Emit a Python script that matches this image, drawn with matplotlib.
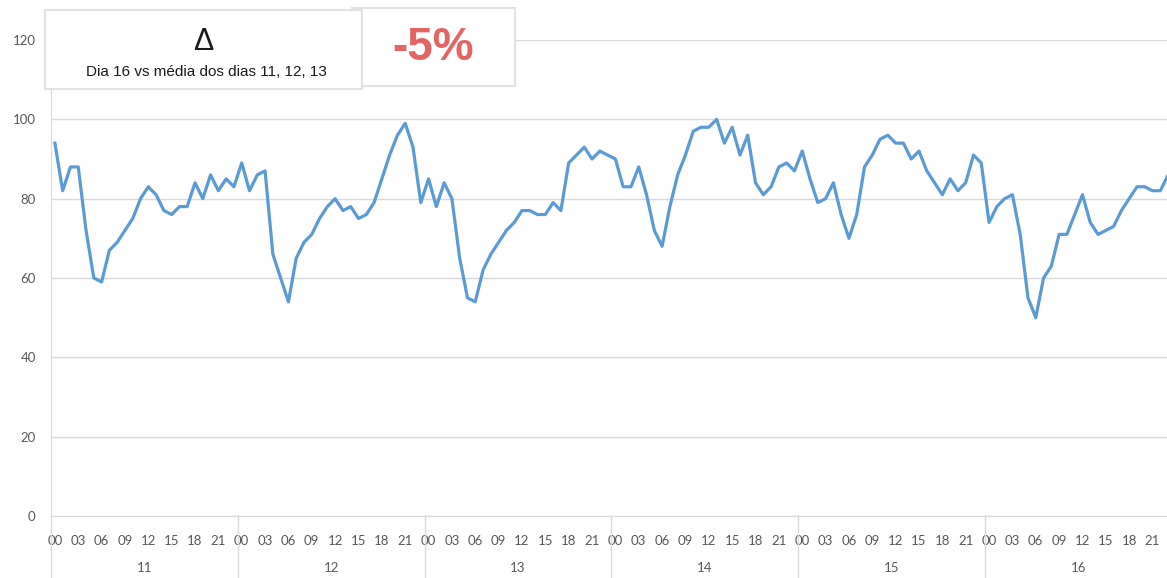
import numpy as np
import matplotlib.pyplot as plt
from matplotlib.patches import Rectangle
from matplotlib.transforms import blended_transform_factory

# Hourly series, one list per day (hours 00..23)
days = ['11', '12', '13', '14', '15', '16']
day11 = [94, 82, 88, 88, 72, 60, 59, 67, 69, 72, 75, 80, 83, 81, 77, 76, 78, 78, 84, 80, 86, 82, 85, 83]
day12 = [89, 82, 86, 87, 66, 60, 54, 65, 69, 71, 75, 78, 80, 77, 78, 75, 76, 79, 85, 91, 96, 99, 93, 79]
day13 = [85, 78, 84, 80, 65, 55, 54, 62, 66, 69, 72, 74, 77, 77, 76, 76, 79, 77, 89, 91, 93, 90, 92, 91]
day14 = [90, 83, 83, 88, 81, 72, 68, 78, 86, 91, 97, 98, 98, 100, 94, 98, 91, 96, 84, 81, 83, 88, 89, 87]
day15 = [92, 85, 79, 80, 84, 76, 70, 76, 88, 91, 95, 96, 94, 94, 90, 92, 87, 84, 81, 85, 82, 84, 91, 89]
day16 = [74, 78, 80, 81, 71, 55, 50, 60, 63, 71, 71, 76, 81, 74, 71, 72, 73, 77, 80, 83, 83, 82, 82, 86]
hour_labels = ['00', '03', '06', '09', '12', '15', '18', '21']
y_ticks = [0, 20, 40, 60, 80, 100, 120]

delta_title = 'Δ'
delta_subtitle = 'Dia 16 vs média dos dias 11, 12, 13'
delta_value = '-5%'

values = day11 + day12 + day13 + day14 + day15 + day16
n_hours = 24
x = np.arange(len(values))

W, H = 1167, 578
fig = plt.figure(figsize=(W / 100, H / 100), dpi=100)
# plot area runs a little past the right edge, like the cropped sheet
ax = fig.add_axes([51 / W, 62 / H, 1121 / W, 476 / H])

grid_col = '#d9d9d9'
lab_col = '#595959'

ax.plot(x, values, color='#5b9bd5', lw=2.3, solid_joinstyle='round', zorder=3)

ax.set_xlim(-0.5, len(values) - 0.5)
ax.set_ylim(0, 120)
ax.set_yticks(y_ticks)
ax.set_yticklabels([str(v) for v in y_ticks], family='Lato', fontsize=9.5, color=lab_col)
ax.yaxis.grid(True, color=grid_col, lw=1)
ax.set_axisbelow(True)

hour_pos = [d * n_hours + h for d in range(len(days)) for h in range(0, 24, 3)]
ax.set_xticks(hour_pos)
ax.set_xticklabels(hour_labels * len(days), family='Lato', fontsize=9.5, color=lab_col)
ax.tick_params(axis='both', length=0)
ax.tick_params(axis='x', pad=14)
ax.tick_params(axis='y', pad=11)

for s in ['top', 'right']:
    ax.spines[s].set_visible(False)
ax.spines['left'].set_color(grid_col)
ax.spines['bottom'].set_color(grid_col)

# day group labels and separators under the axis
trans = blended_transform_factory(ax.transData, ax.transAxes)
for d, name in enumerate(days):
    start = d * n_hours - 0.5
    ax.plot([start, start], [0, -0.14], transform=trans, color=grid_col, lw=1, clip_on=False)
    ax.text(start + n_hours / 2, -0.109, name, transform=trans, ha='center', va='center',
            family='Lato', fontsize=9.5, color=lab_col)

# summary boxes over the top of the chart
box_edge = '#e2e2e2'
fig.add_artist(Rectangle((352 / W, 1 - 86 / H), 163 / W, 78 / H, transform=fig.transFigure,
                         facecolor='white', edgecolor=box_edge, lw=1.5, zorder=5))
fig.add_artist(Rectangle((45 / W, 1 - 89 / H), 317 / W, 79 / H, transform=fig.transFigure,
                         facecolor='white', edgecolor=box_edge, lw=1.5, zorder=6))
fig.text(203 / W, 1 - 42 / H, delta_title, ha='center', va='center', family='Liberation Sans',
         fontsize=22, color='#1a1a1a', zorder=7)
fig.text(206 / W, 1 - 72 / H, delta_subtitle, ha='center', va='center', family='Liberation Sans',
         fontsize=11, color='#1a1a1a', zorder=7)
fig.text(433 / W, 1 - 48 / H, delta_value, ha='center', va='center', family='Liberation Sans',
         fontsize=33, fontweight='bold', color='#e46464', zorder=7)

fig.savefig('out.png', dpi=100)
